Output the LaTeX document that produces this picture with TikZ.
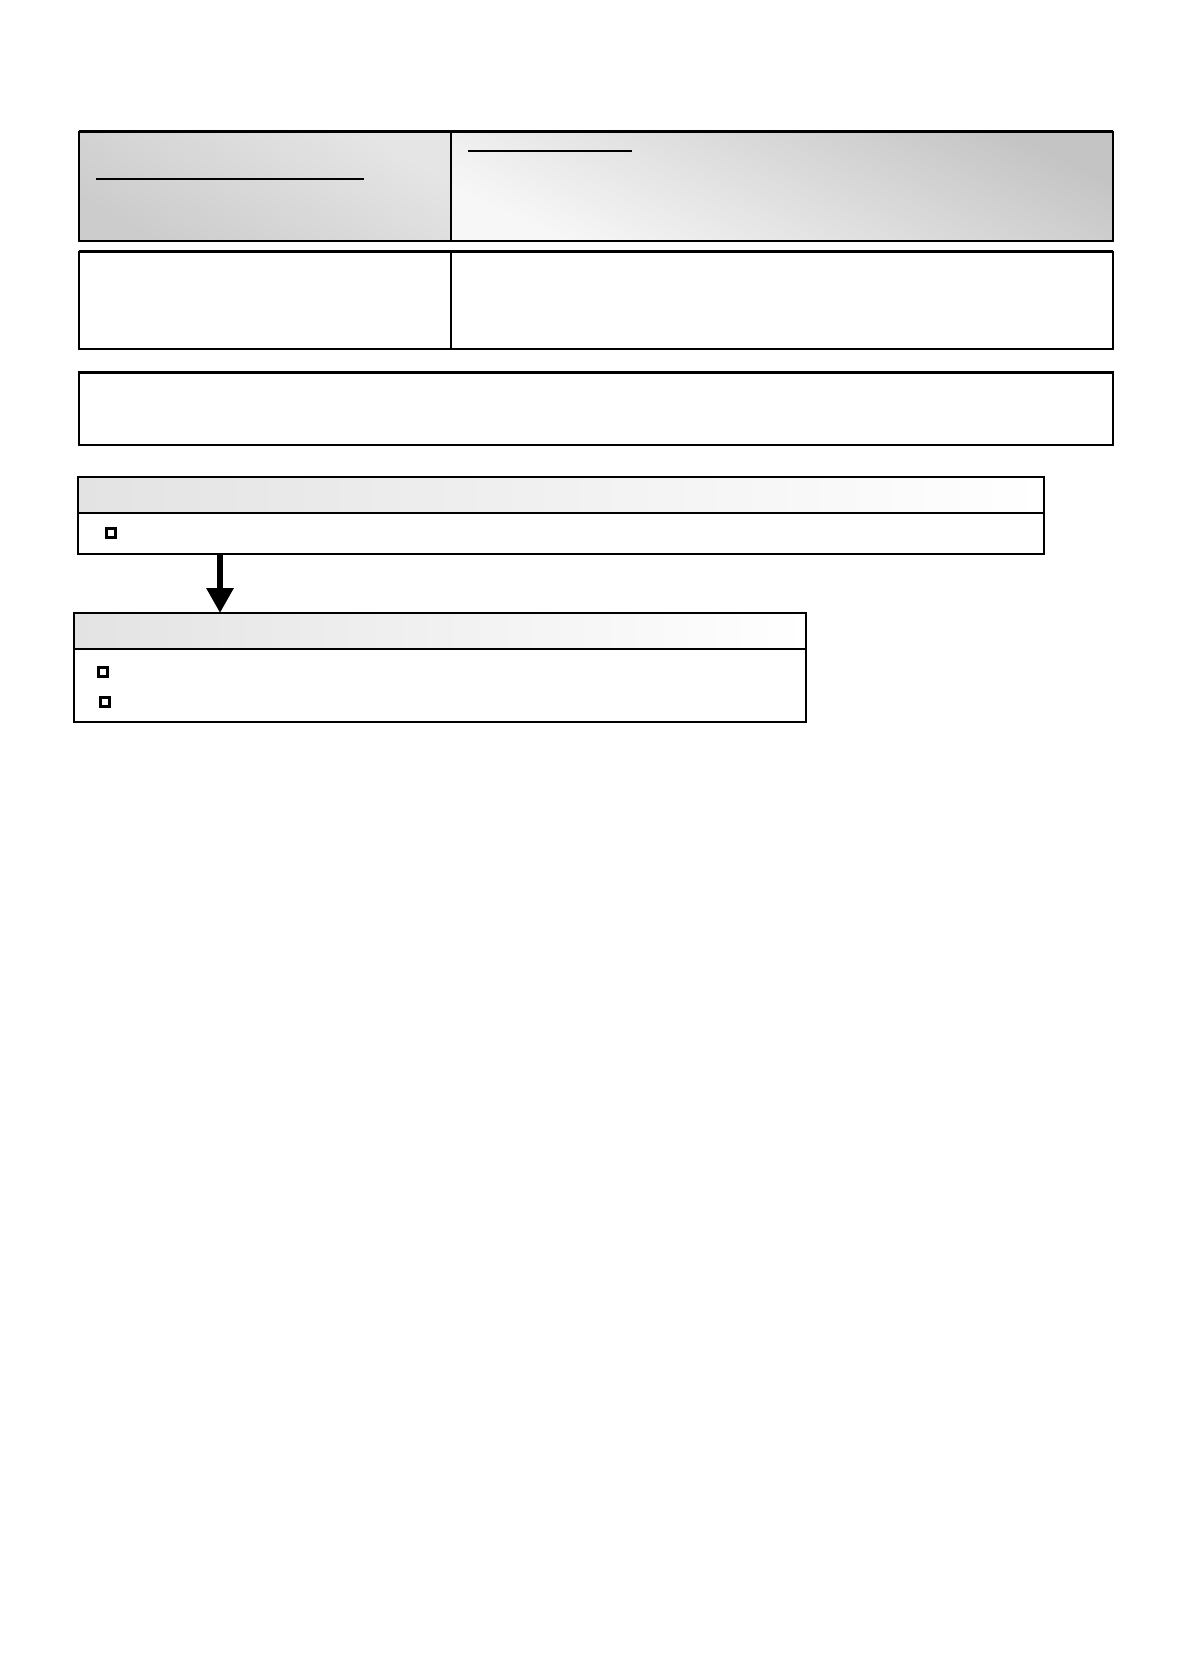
\documentclass[tikz,border=0pt]{standalone}
\usetikzlibrary{arrows.meta}
\begin{document}
\begin{tikzpicture}[x=1pt,y=-1pt,
  cell/.style={draw=black,line width=1.6pt,rectangle,inner sep=0pt,outer sep=0pt,anchor=north west},
  whitecell/.style={cell,fill=white},
  hdr/.style={cell,left color=black!11,right color=white},
  chk/.style={draw=black,line width=2.3pt,fill=white,rectangle,minimum size=9pt,inner sep=0pt},
  uline/.style={draw=black,line width=1.5pt},
  flow/.style={line width=6pt,-{Triangle[width=26pt,length=25pt]}}
]
\useasboundingbox[fill=white] (0,0) rectangle (1184,1680);

% top row (shaded)
\node[cell,minimum width=372pt,minimum height=109pt,
      top color=black!10,bottom color=black!20,shading angle=-30] (tl) at (79,132) {};
\node[cell,minimum width=662pt,minimum height=109pt,
      top color=black!23,bottom color=black!3,shading angle=-25] (tr) at (451,132) {};
\draw[line width=3pt] (tl.north west) -- (tr.north east);
\coordinate (ulA1) at (96,179);  \coordinate (ulA2) at (364,179);
\coordinate (ulB1) at (468,151); \coordinate (ulB2) at (632,151);
\draw[uline] (ulA1) -- (ulA2);
\draw[uline] (ulB1) -- (ulB2);

% second row
\node[whitecell,minimum width=372pt,minimum height=97pt] (ml) at (79,252) {};
\node[whitecell,minimum width=662pt,minimum height=97pt] (mr) at (451,252) {};
\draw[line width=3pt] (ml.north west) -- (mr.north east);

% third box
\node[whitecell,minimum width=1034pt,minimum height=73pt] (wide) at (79,372) {};
\draw[line width=3pt] (wide.north west) -- (wide.north east);

% box 4
\node[hdr,minimum width=966pt,minimum height=36pt] (h4) at (78,477) {};
\node[whitecell,minimum width=966pt,minimum height=41pt] (b4) at (78,513) {};
\draw[line width=2.6pt] (h4.north east) -- (h4.south east);
\node[chk] (c41) at (111,533) {};

% box 5
\node[hdr,minimum width=732pt,minimum height=36pt] (h5) at (74,613) {};
\node[whitecell,minimum width=732pt,minimum height=73pt] (b5) at (74,649) {};
\node[chk] (c51) at (103,672) {};
\node[chk] (c52) at (105,702) {};

% arrow
\draw[flow] (b4.south west -| 220,0) -- (h5.north west -| 220,0);
\end{tikzpicture}
\end{document}
